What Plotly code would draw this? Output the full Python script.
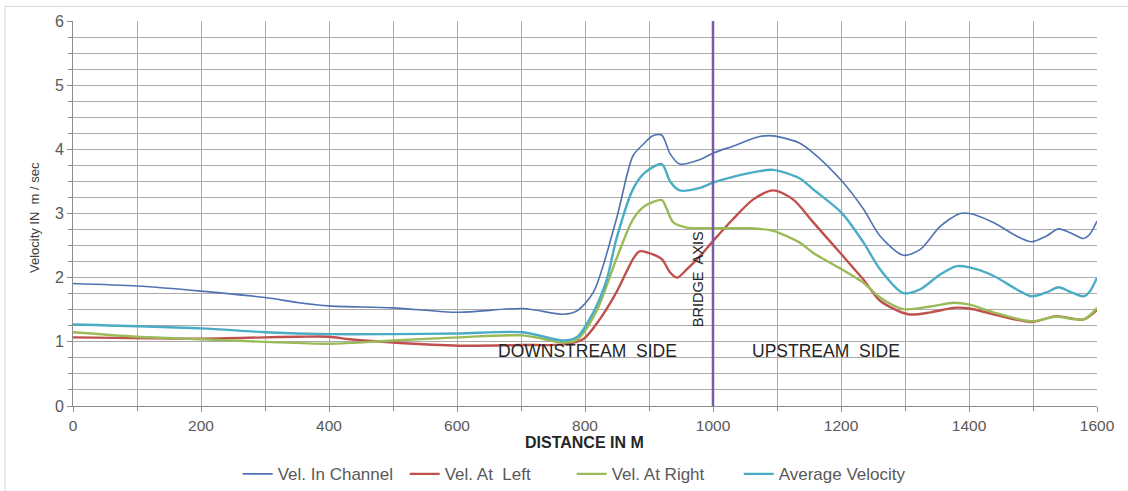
import plotly.graph_objects as go

# Distance along the reach (m) and the velocity profiles (m/sec)
dist_channel = [0, 100, 200, 300, 353, 400, 500, 602, 703, 766, 787, 813, 849, 875, 891, 906, 920, 933, 948, 980,
                1000, 1031, 1073, 1094, 1135, 1156, 1201, 1235, 1261, 1297, 1324, 1355, 1386, 1401, 1438, 1474, 1498,
                1521, 1540, 1558, 1579, 1589, 1600]
vel_channel = [1.91, 1.87, 1.79, 1.69, 1.61, 1.56, 1.53, 1.46, 1.52, 1.43, 1.48, 1.77, 2.91, 3.90, 4.08, 4.21, 4.22,
               3.93, 3.77, 3.84, 3.94, 4.05, 4.20, 4.21, 4.10, 3.95, 3.51, 3.07, 2.65, 2.35, 2.44, 2.80, 3.00,
               3.00, 2.86, 2.65, 2.56, 2.65, 2.76, 2.70, 2.61, 2.68, 2.88]

dist_left = [0, 200, 300, 353, 400, 432, 500, 602, 703, 766, 797, 823, 849, 875, 885, 898, 920, 933, 944, 959, 980,
             1000, 1031, 1063, 1094, 1125, 1156, 1201, 1235, 1261, 1305, 1340, 1376, 1401, 1438, 1498, 1536, 1579,
             1600]
vel_left = [1.07, 1.05, 1.07, 1.08, 1.08, 1.04, 0.99, 0.94, 0.95, 0.96, 1.04, 1.35, 1.77, 2.29, 2.41, 2.39, 2.29,
            2.08, 2.00, 2.13, 2.34, 2.57, 2.91, 3.22, 3.36, 3.22, 2.87, 2.36, 1.97, 1.64, 1.43, 1.46, 1.53, 1.52,
            1.43, 1.31, 1.40, 1.35, 1.50]

dist_right = [0, 100, 200, 300, 400, 500, 602, 703, 766, 787, 817, 849, 875, 894, 920, 927, 938, 959, 1000, 1057,
              1094, 1135, 1156, 1201, 1235, 1261, 1297, 1340, 1376, 1401, 1438, 1498, 1536, 1579, 1600]
vel_right = [1.15, 1.08, 1.04, 1.00, 0.97, 1.02, 1.07, 1.10, 0.99, 1.03, 1.46, 2.29, 2.91, 3.12, 3.21, 3.09, 2.86,
             2.78, 2.77, 2.77, 2.73, 2.55, 2.39, 2.13, 1.92, 1.69, 1.51, 1.55, 1.61, 1.58, 1.46, 1.32, 1.39, 1.35,
             1.53]

dist_avg = [0, 200, 300, 400, 500, 602, 703, 766, 787, 813, 834, 849, 875, 894, 920, 933, 948, 980, 1000, 1031,
            1073, 1094, 1135, 1156, 1201, 1235, 1261, 1297, 1324, 1355, 1381, 1401, 1438, 1474, 1498, 1521, 1540,
            1558, 1579, 1589, 1600]
vel_avg = [1.27, 1.21, 1.15, 1.12, 1.12, 1.13, 1.15, 1.02, 1.07, 1.46, 1.97, 2.60, 3.38, 3.64, 3.77, 3.50,
           3.36, 3.40, 3.48, 3.57, 3.66, 3.68, 3.55, 3.38, 3.01, 2.55, 2.13, 1.76, 1.82, 2.05, 2.18, 2.16, 2.03,
           1.82, 1.71, 1.77, 1.85, 1.78, 1.71, 1.79, 2.00]

bridge_axis_x = [1000, 1000]
bridge_axis_y = [0, 6]

x_ticks = [0, 200, 400, 600, 800, 1000, 1200, 1400, 1600]
y_ticks = [0, 1, 2, 3, 4, 5, 6]

FONT = "Liberation Sans, Arial, sans-serif"
GRID = "#aaaaaa"
AXIS = "#8c8c8c"

fig = go.Figure()

series = [
    ("Vel. In Channel", dist_channel, vel_channel, "#4f73b0", 1.6),
    ("Vel. At  Left", dist_left, vel_left, "#c0504d", 2.4),
    ("Vel. At Right", dist_right, vel_right, "#9bbb59", 2.4),
    ("Average Velocity", dist_avg, vel_avg, "#4bacc6", 2.4),
]
for name, xs, ys, color, width in series:
    fig.add_trace(go.Scatter(
        x=xs, y=ys, name=name, mode="lines",
        line=dict(color=color, width=width, shape="spline", smoothing=0.8),
    ))

# Bridge axis marker
fig.add_trace(go.Scatter(
    x=bridge_axis_x, y=bridge_axis_y, mode="lines", showlegend=False,
    line=dict(color="#7a5ca6", width=2.5), hoverinfo="skip",
))

fig.add_annotation(x=804, y=0.85, text="DOWNSTREAM  SIDE", showarrow=False,
                   font=dict(family=FONT, size=17.5, color="#262626"))
fig.add_annotation(x=1176, y=0.86, text="UPSTREAM  SIDE", showarrow=False,
                   font=dict(family=FONT, size=17.5, color="#262626"))
fig.add_annotation(x=976, y=1.97, text="BRIDGE  AXIS", showarrow=False, textangle=-90,
                   font=dict(family=FONT, size=14.5, color="#262626"))

# Axis titles
fig.add_annotation(xref="paper", yref="paper", x=0.4995, y=-0.096, yanchor="middle",
                   text="<b>DISTANCE IN M</b>", showarrow=False,
                   font=dict(family=FONT, size=16, color="#262626"))
fig.add_annotation(xref="paper", yref="paper", x=-0.0374, y=0.49, xanchor="center", yanchor="middle",
                   text="Velocity IN  m / sec", showarrow=False, textangle=-90,
                   font=dict(family=FONT, size=13, color="#404040"))

# Outer chart frame (left and top edges)
fig.add_shape(type="line", xref="paper", yref="paper", x0=-0.0664, x1=1.03, y0=1.038, y1=1.038,
              line=dict(color="#d4d4d4", width=1))
fig.add_shape(type="line", xref="paper", yref="paper", x0=-0.0664, x1=-0.0664, y0=1.038, y1=-0.25,
              line=dict(color="#d4d4d4", width=1))

fig.update_layout(
    width=1128, height=491,
    margin=dict(l=73, r=31, t=21, b=85, autoexpand=False),
    paper_bgcolor="white", plot_bgcolor="white",
    font=dict(family=FONT, color="#595959"),
    showlegend=True,
    legend=dict(orientation="h", x=0.487, xanchor="center", y=-0.1774, yanchor="middle",
                font=dict(family=FONT, size=17, color="#595959"), itemwidth=30,
                entrywidth=122, entrywidthmode="pixels",
                traceorder="normal", bgcolor="rgba(0,0,0,0)"),
    xaxis=dict(
        range=[0, 1600], tickvals=x_ticks, ticks="outside", ticklen=5, tickcolor=AXIS,
        showgrid=True, gridcolor=GRID, gridwidth=1,
        showline=True, linecolor=AXIS, zeroline=False, automargin=False,
        tickfont=dict(family=FONT, size=15.5, color="#595959"),
        minor=dict(dtick=100, showgrid=True, gridcolor=GRID, ticks="outside", ticklen=4, tickcolor=AXIS),
    ),
    yaxis=dict(
        range=[0, 6], tickvals=y_ticks, ticks="outside", ticklen=5, tickcolor=AXIS,
        showgrid=True, gridcolor=GRID, gridwidth=1,
        showline=True, linecolor=AXIS, zeroline=False, automargin=False,
        tickfont=dict(family=FONT, size=16, color="#595959"),
        minor=dict(dtick=0.25, showgrid=True, gridcolor=GRID, ticks="outside", ticklen=4, tickcolor=AXIS),
    ),
)

fig.write_html("out.html")
